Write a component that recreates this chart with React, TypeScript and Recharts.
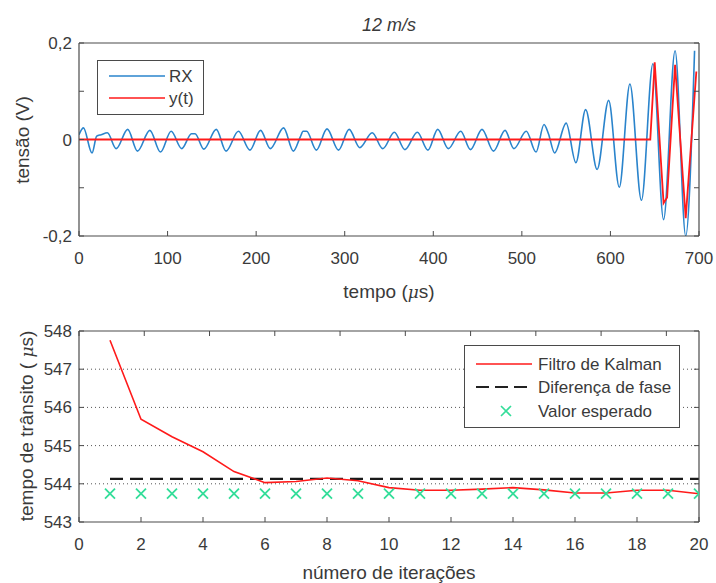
import { LineChart, Line, XAxis, YAxis, ReferenceLine, Legend } from "recharts";

// --- top plot: received signal RX and fitted y(t) ---
const rxTime = [
  0, 5, 14.7, 20, 25, 32, 42, 55, 66, 80, 92, 104, 116, 127, 131, 141, 155, 166,
  180, 193, 205, 216, 231, 242, 250, 253, 257, 268, 280, 293, 305, 317, 331, 343,
  356, 368, 382, 394, 405, 417, 431, 442, 455, 468, 481, 491, 505, 516,
  525, 530, 537, 550, 561, 572, 585, 598, 610, 622, 635, 648, 660, 673, 685, 695,
];
const rxVolts = [
  0.01, 0.024, -0.028, 0.007, 0.01, 0.014, -0.019, 0.021, -0.024, 0.019, -0.026, 0.017, -0.019, 0.012, 0.012, -0.02, 0.021, -0.024,
  0.017, -0.022, 0.019, -0.019, 0.024, -0.024, 0.006, 0.017, 0.017, -0.022, 0.022, -0.022, 0.021, -0.017, 0.014, -0.019,
  0.015, -0.021, 0.015, -0.022, 0.021, -0.019, 0.017, -0.021, 0.021, -0.024, 0.019, -0.019, 0.017, -0.026,
  0.031, 0.012, -0.028, 0.034, -0.048, 0.062, -0.062, 0.081, -0.099, 0.115, -0.126, 0.157, -0.166, 0.184, -0.2, 0.184,
];
const ytTime = [0, 645, 650, 660, 664, 673, 685, 697];
const ytVolts = [0, 0, 0.16, -0.132, -0.12, 0.155, -0.163, 0.141];
const timeTicks = [0, 100, 200, 300, 400, 500, 600, 700];
const voltTicks = [-0.2, -0.1, 0, 0.1, 0.2];
const voltLabels = ["-0,2", "", "0", "", "0,2"];

// --- bottom plot: transit time estimates ---
const iterations = [1, 2, 3, 4, 5, 6, 7, 8, 9, 10, 11, 12, 13, 14, 15, 16, 17, 18, 19, 20];
const kalman = [547.76, 545.69, 545.23, 544.84, 544.32, 544.03, 544.06, 544.15, 544.08, 543.9, 543.83, 543.83, 543.86, 543.9, 543.84, 543.76, 543.76, 543.83, 543.83, 543.74];
const fase = [544.13, 544.13, 544.13, 544.13, 544.13, 544.13, 544.13, 544.13, 544.13, 544.13, 544.13, 544.13, 544.13, 544.13, 544.13, 544.13, 544.13, 544.13, 544.13, 544.13];
const esperado = [543.74, 543.74, 543.74, 543.74, 543.74, 543.74, 543.74, 543.74, 543.74, 543.74, 543.74, 543.74, 543.74, 543.74, 543.74, 543.74, 543.74, 543.74, 543.74, 543.74];
const iterTicks = [0, 2, 4, 6, 8, 10, 12, 14, 16, 18, 20];
const transitTicks = [543, 544, 545, 546, 547, 548];
const gridValues = [544, 545, 546, 547];

const rxData = rxTime.map((t, i) => ({ t, v: rxVolts[i] }));
const ytData = ytTime.map((t, i) => ({ t, v: ytVolts[i] }));
const iterData = iterations.map((n, i) => ({ n, kalman: kalman[i], fase: fase[i], esperado: esperado[i] }));

const FONT = "'Liberation Sans', Arial, sans-serif";
const INK = "#3a3a3a";
const EDGE = "#4a4a4a";
const BLUE = "#2a84cc";
const RED = "#ff1a1a";
const MINT = "#33dd99";

// ticks point inwards like matlab, labels optional
const tick = (side: string, label?: (v: number) => string) => (props: any) => {
  const { x, y, payload } = props;
  const txt = label ? label(payload.value) : "";
  const d = 5;
  let mark;
  if (side === "bottom") mark = <line x1={x} x2={x} y1={y} y2={y - d} />;
  else if (side === "top") mark = <line x1={x} x2={x} y1={y} y2={y + d} />;
  else if (side === "left") mark = <line x1={x} x2={x + d} y1={y} y2={y} />;
  else mark = <line x1={x} x2={x - d} y1={y} y2={y} />;
  return (
    <g stroke={EDGE} strokeWidth={1}>
      {mark}
      {txt !== "" && side === "bottom" && (
        <text x={x} y={y + 28} textAnchor="middle" fill={INK} stroke="none" fontSize={17} fontFamily={FONT}>{txt}</text>
      )}
      {txt !== "" && side === "left" && (
        <text x={x - 7} y={y + 6} textAnchor="end" fill={INK} stroke="none" fontSize={17} fontFamily={FONT}>{txt}</text>
      )}
    </g>
  );
};

const crossDot = (props: any) => {
  const { cx, cy, index } = props;
  const r = 5;
  return (
    <path key={index} d={`M${cx - r},${cy - r}L${cx + r},${cy + r}M${cx + r},${cy - r}L${cx - r},${cy + r}`} stroke={MINT} strokeWidth={1.8} fill="none" />
  );
};

const axisCommon = { tickSize: 0, tickMargin: 0, tickLine: false, interval: 0 as const, allowDataOverflow: true, axisLine: { stroke: EDGE, strokeWidth: 1.2 } };

const label: React.CSSProperties = { position: "absolute", fontFamily: FONT, color: INK, fontSize: 19, whiteSpace: "nowrap", lineHeight: 1 };

function TopLegend() {
  return (
    <svg width={107} height={55}>
      <rect x={0.5} y={0.5} width={106} height={54} fill="#fff" stroke={EDGE} />
      <line x1={12} x2={68} y1={16} y2={16} stroke={BLUE} strokeWidth={1.6} />
      <text x={72} y={22} fontSize={17} fontFamily={FONT} fill={INK}>RX</text>
      <line x1={12} x2={68} y1={38} y2={38} stroke={RED} strokeWidth={1.6} />
      <text x={72} y={44} fontSize={17} fontFamily={FONT} fill={INK}>y(t)</text>
    </svg>
  );
}

function BottomLegend() {
  const cx = 42;
  return (
    <svg width={216} height={83}>
      <rect x={0.5} y={0.5} width={215} height={82} fill="#fff" stroke={EDGE} />
      <line x1={12} x2={68} y1={19} y2={19} stroke={RED} strokeWidth={1.6} />
      <text x={74} y={25} fontSize={17} fontFamily={FONT} fill={INK}>Filtro de Kalman</text>
      <line x1={12} x2={68} y1={42} y2={42} stroke="#222" strokeWidth={2} strokeDasharray="13 6" />
      <text x={74} y={48} fontSize={17} fontFamily={FONT} fill={INK}>Diferença de fase</text>
      <path d={`M${cx - 5},61L${cx + 5},71M${cx + 5},61L${cx - 5},71`} stroke={MINT} strokeWidth={1.6} />
      <text x={74} y={72} fontSize={17} fontFamily={FONT} fill={INK}>Valor esperado</text>
    </svg>
  );
}

export default function App() {
  return (
    <div style={{ position: "absolute", left: 0, top: 0, width: 716, height: 583, background: "#fff", overflow: "hidden" }}>
      <div style={{ position: "absolute", left: 0, top: 0 }}>
        <LineChart width={716} height={290} margin={{ top: 0, right: 0, bottom: 0, left: 0 }}>
          <XAxis dataKey="t" type="number" domain={[0, 700]} ticks={timeTicks} height={54} {...axisCommon}
            tick={tick("bottom", (v) => String(v))} />
          <XAxis xAxisId="top" orientation="top" type="number" domain={[0, 700]} ticks={timeTicks} height={43} {...axisCommon}
            tick={tick("top")} />
          <YAxis type="number" domain={[-0.2, 0.2]} ticks={voltTicks} width={79} {...axisCommon}
            tick={tick("left", (v) => voltLabels[voltTicks.indexOf(v)] ?? "")} />
          <YAxis yAxisId="right" orientation="right" type="number" domain={[-0.2, 0.2]} ticks={voltTicks} width={17} {...axisCommon}
            tick={tick("right")} />
          <Line data={rxData} dataKey="v" type="monotone" stroke={BLUE} strokeWidth={1.6} dot={false} isAnimationActive={false} />
          <Line data={ytData} dataKey="v" type="linear" stroke={RED} strokeWidth={1.8} dot={false} isAnimationActive={false} />
          <Legend layout="vertical" align="center" verticalAlign="middle" content={() => <TopLegend />}
            wrapperStyle={{ left: 97, top: 60, width: 107, height: 55 }} />
        </LineChart>
      </div>

      <div style={{ position: "absolute", left: 0, top: 290 }}>
        <LineChart width={716} height={293} data={iterData} margin={{ top: 0, right: 0, bottom: 0, left: 0 }}>
          <XAxis dataKey="n" type="number" domain={[0, 20]} ticks={iterTicks} height={61} {...axisCommon}
            tick={tick("bottom", (v) => String(v))} />
          <XAxis xAxisId="top" orientation="top" type="number" domain={[0, 20]} ticks={iterTicks} height={41} {...axisCommon}
            tick={tick("top")} />
          <YAxis type="number" domain={[543, 548]} ticks={transitTicks} width={79} {...axisCommon}
            tick={tick("left", (v) => String(v))} />
          <YAxis yAxisId="right" orientation="right" type="number" domain={[543, 548]} ticks={transitTicks} width={17} {...axisCommon}
            tick={tick("right")} />
          {gridValues.map((g) => (
            <ReferenceLine key={g} y={g} stroke="#555" strokeWidth={1} strokeDasharray="1 3" />
          ))}
          <Line dataKey="fase" type="linear" stroke="#1a1a1a" strokeWidth={2.4} strokeDasharray="13 7" dot={false} isAnimationActive={false} />
          <Line dataKey="kalman" type="linear" stroke={RED} strokeWidth={1.6} dot={false} isAnimationActive={false} />
          <Line dataKey="esperado" stroke="none" dot={crossDot} activeDot={false} isAnimationActive={false} />
          <Legend layout="vertical" align="center" verticalAlign="middle" content={() => <BottomLegend />}
            wrapperStyle={{ left: 464, top: 55, width: 216, height: 83 }} />
        </LineChart>
      </div>

      <div style={{ ...label, left: 389, top: 25, transform: "translate(-50%,-50%)", fontStyle: "italic", fontSize: 18 }}>12 m/s</div>
      <div style={{ ...label, left: 389, top: 291, transform: "translate(-50%,-50%)" }}>
        tempo (<i style={{ fontFamily: "'DejaVu Serif', serif", fontSize: 17 }}>μ</i>s)
      </div>
      <div style={{ ...label, left: 22, top: 140, transform: "translate(-50%,-50%) rotate(-90deg)" }}>tensão (V)</div>
      <div style={{ ...label, left: 26, top: 426, transform: "translate(-50%,-50%) rotate(-90deg)" }}>
        tempo de trânsito ( <i style={{ fontFamily: "'DejaVu Serif', serif", fontSize: 17 }}>μ</i>s)
      </div>
      <div style={{ ...label, left: 389, top: 572, transform: "translate(-50%,-50%)" }}>número de iterações</div>
    </div>
  );
}
